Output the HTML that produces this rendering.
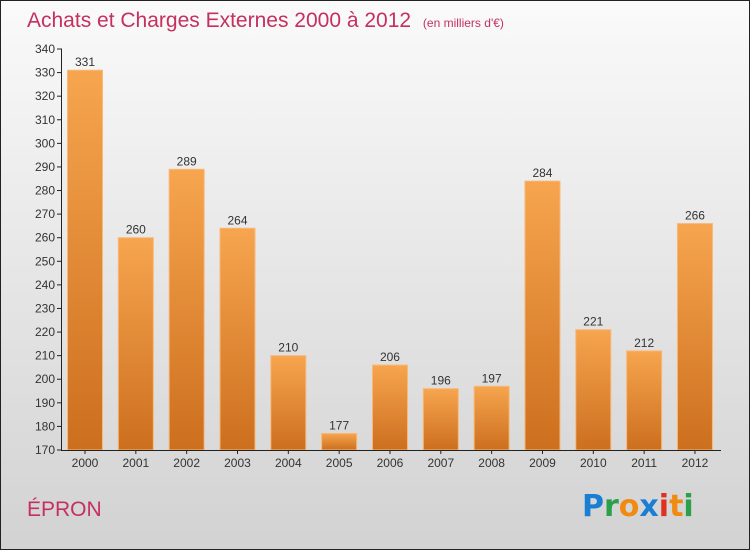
<!DOCTYPE html>
<html><head><meta charset="utf-8"><style>
body{margin:0;width:750px;height:550px;overflow:hidden}
svg{display:block;font-family:"Liberation Sans",sans-serif}
</style></head><body>
<svg id="c" width="750" height="550">
<defs>
<linearGradient id="bg" x1="0" y1="0" x2="0" y2="1"><stop offset="0" stop-color="#fafafa"/><stop offset="1" stop-color="#d2d2d2"/></linearGradient>
<linearGradient id="bar" x1="0" y1="0" x2="0" y2="1"><stop offset="0" stop-color="#f7a54f"/><stop offset="1" stop-color="#cc6f1e"/></linearGradient>
</defs>
<rect x="0.5" y="0.5" width="749" height="549" fill="url(#bg)" stroke="#222"/>
<text x="27" y="27" font-size="21" fill="#c4305f">Achats et Charges Externes 2000 à 2012 <tspan font-size="12" dx="6">(en milliers d'€)</tspan></text>
<text x="27" y="516" font-size="21" fill="#c4305f">ÉPRON</text>
<g font-size="30" font-weight="bold" font-family="'DejaVu Sans',sans-serif">
<text x="582" y="516"><tspan fill="#1a7fd4">P</tspan><tspan fill="#2aa04a">r</tspan><tspan fill="#f08a10">o</tspan><tspan fill="#1a7fd4">x</tspan><tspan fill="#e03020">i</tspan><tspan fill="#f08a10">t</tspan><tspan fill="#2aa04a">i</tspan></text>
</g>
<g id="plot"></g>
</svg>
<script>
const years=["2000","2001","2002","2003","2004","2005","2006","2007","2008","2009","2010","2011","2012"];
const values=[331,260,289,264,210,177,206,196,197,284,221,212,266];
const yTicks=[170,180,190,200,210,220,230,240,250,260,270,280,290,300,310,320,330,340];
const ns="http://www.w3.org/2000/svg";
const g=document.getElementById('plot');
const y0=450,y1=49,vmin=170,vmax=340;
function ys(v){return y0-(v-vmin)*(y0-y1)/(vmax-vmin);}
function xs(i){return 85+i*50.83;}
function mk(t,a){const e=document.createElementNS(ns,t);for(const k in a)e.setAttribute(k,a[k]);g.appendChild(e);return e;}
years.forEach((yr,i)=>{
 const b=mk('rect',{x:xs(i)-17.5,y:ys(values[i]),width:35,height:y0-ys(values[i]),fill:'url(#bar)',stroke:'#f9b878','stroke-width':1});
 
 
 const l=mk('text',{x:xs(i),y:ys(values[i])-4,'text-anchor':'middle','font-size':12,fill:'#333'});
 l.textContent=values[i];
 
 
 const xl=mk('text',{x:xs(i),y:467,'text-anchor':'middle','font-size':12,fill:'#333'});
 xl.textContent=yr;
 
 
 const xt=mk('line',{x1:xs(i),x2:xs(i),y1:y0,y2:y0+4,stroke:'#222'});
 
 
});
yTicks.forEach(v=>{
 const t=mk('line',{x1:57,x2:62,y1:ys(v),y2:ys(v),stroke:'#222'});
 
 
 const l=mk('text',{x:55,y:ys(v)+4,'text-anchor':'end','font-size':12,fill:'#333'});
 l.textContent=v;
 
 
});
const ya=mk('line',{x1:61.5,x2:61.5,y1:y1,y2:y0,stroke:'#222'});


const xa=mk('line',{x1:61,x2:721,y1:y0+0.5,y2:y0+0.5,stroke:'#222'});


</script>
</body></html>
